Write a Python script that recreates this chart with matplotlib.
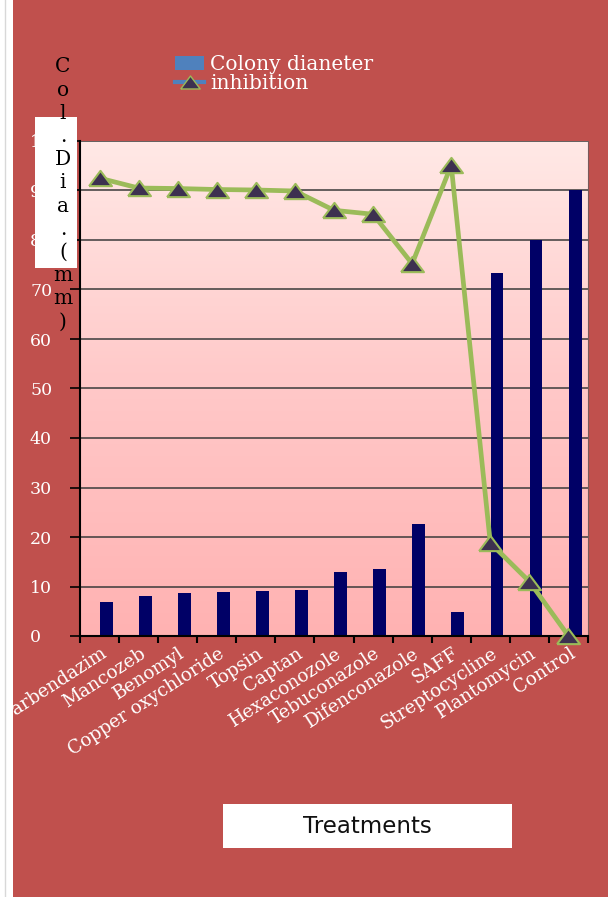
import matplotlib
matplotlib.use('Agg')
import matplotlib.pyplot as plt
import numpy as np
from matplotlib.patches import Rectangle, Patch
from matplotlib.lines import Line2D
from matplotlib.colors import LinearSegmentedColormap

#---  data  ---
treatments = ['Carbendazim', 'Mancozeb', 'Benomyl', 'Copper oxychloride', 'Topsin',
              'Captan', 'Hexaconozole', 'Tebuconazole', 'Difenconazole', 'SAFF',
              'Streptocycline', 'Plantomycin', 'Control']
colony_dia = [6.9, 8.1, 8.6, 8.8, 9.0, 9.2, 12.9, 13.5, 22.6, 4.8, 73.4, 80.0, 90.0]
inhibition = [92.5, 90.5, 90.4, 90.2, 90.1, 89.9, 86.0, 85.2, 75.2, 95.1, 18.8, 11.0, 0.0]
y_ticks = [0, 10, 20, 30, 40, 50, 60, 70, 80, 90, 100]
y_label = 'Col.Dia.(mm)'

W, H = 608, 897
red = '#C0504D'
serif = 'DejaVu Serif'
tri = [(-1.5, -1), (1.5, -1), (0, 1), (-1.5, -1)]   # wide triangle marker

fig = plt.figure(figsize=(W/100, H/100), dpi=100)
fig.patch.set_facecolor(red)
ax = fig.add_axes([80/W, 1-636/H, 508/W, 495/H])

#---  pink gradient plot area  ---
cmap = LinearSegmentedColormap.from_list('pink', ['#FFB2B2', '#FFC8C8', '#FFE9E6'])
ax.imshow(np.linspace(0, 1, 256).reshape(-1, 1), cmap=cmap, origin='lower',
          extent=[-0.5, len(treatments)-0.5, 0, 100], aspect='auto', zorder=0)

#---  grid lines  ---
for t in y_ticks[1:]:
    ax.axhline(t, color='#3a3a3a', lw=1.1, zorder=1)

#---  bars and line  ---
x = np.arange(len(treatments))
ax.bar(x + 0.17, colony_dia, width=0.33, color='#000066', zorder=2)
ax.plot(x, inhibition, color='#9BBB59', lw=3.4, marker=tri, markersize=16.5,
        markerfacecolor='#3D3150', markeredgecolor='#9BBB59', markeredgewidth=1.5,
        zorder=3, clip_on=False)

ax.set_xlim(-0.5, len(treatments)-0.5)
ax.set_ylim(0, 100)

#---  axes styling  ---
ax.spines['top'].set_visible(False)
ax.spines['right'].set_color('#7a5a5a')
ax.spines['left'].set_linewidth(1.5)
ax.spines['bottom'].set_linewidth(1.5)

ax.set_yticks(y_ticks)
ax.set_yticklabels([str(t) for t in y_ticks], fontsize=12.5, family=serif, color='white',
                   ha='left')
ax.tick_params(axis='y', direction='out', length=7, width=1.2, pad=29, colors='black',
               labelcolor='white')

ax.set_xticks(x + 0.02)
ax.set_xticklabels(treatments, rotation=33, ha='right', va='top', rotation_mode='anchor',
                   fontsize=13.2, family=serif, color='white')
ax.tick_params(axis='x', which='major', length=0, pad=6)
ax.set_xticks(np.arange(-0.5, len(treatments)), minor=True)
ax.tick_params(axis='x', which='minor', direction='out', length=5, width=1.5, colors='black')

#---  legend  ---
handles = [Patch(facecolor='#4F81BD', edgecolor='none'),
           Line2D([], [], color='#4F81BD', lw=3, marker=tri, markersize=14,
                  markerfacecolor='#3D3150', markeredgecolor='#9BBB59')]
leg = fig.legend(handles, ['Colony dianeter', 'inhibition'], loc='upper left',
                 bbox_to_anchor=(165/W, 1-45/H), frameon=False, handlelength=1.45,
                 handletextpad=0.3, labelspacing=0.0, borderpad=0,
                 prop={'family': serif, 'size': 14.5})
for t in leg.get_texts():
    t.set_color('white')

#---  y label with white box  ---
fig.add_artist(Rectangle((35/W, 1-268/H), 42/W, 151/H, transform=fig.transFigure,
                         facecolor='white', edgecolor='none', zorder=5))
for i, ch in enumerate(y_label):
    fig.text(63/W, 1-(67 + i*23.2)/H, ch, ha='center', va='center',
             fontsize=14.5, family=serif, color='black', zorder=6)

#---  x label box  ---
fig.add_artist(Rectangle((223/W, 1-848/H), 289/W, 44/H, transform=fig.transFigure,
                         facecolor='white', edgecolor='none', zorder=5))
fig.text(367/W, 1-826/H, 'Treatments', ha='center', va='center', fontsize=16.5,
         family='DejaVu Sans', color='#111111', zorder=6)

#---  white strip on the left  ---
fig.add_artist(Rectangle((0, 0), 12.5/W, 1, transform=fig.transFigure,
                         facecolor='white', edgecolor='none', zorder=7))
fig.add_artist(Line2D([4.5/W, 4.5/W], [0, 1], transform=fig.transFigure,
                      color='#d8d8d8', lw=1, zorder=8))

plt.savefig('out.png', dpi=100, facecolor=fig.get_facecolor())
